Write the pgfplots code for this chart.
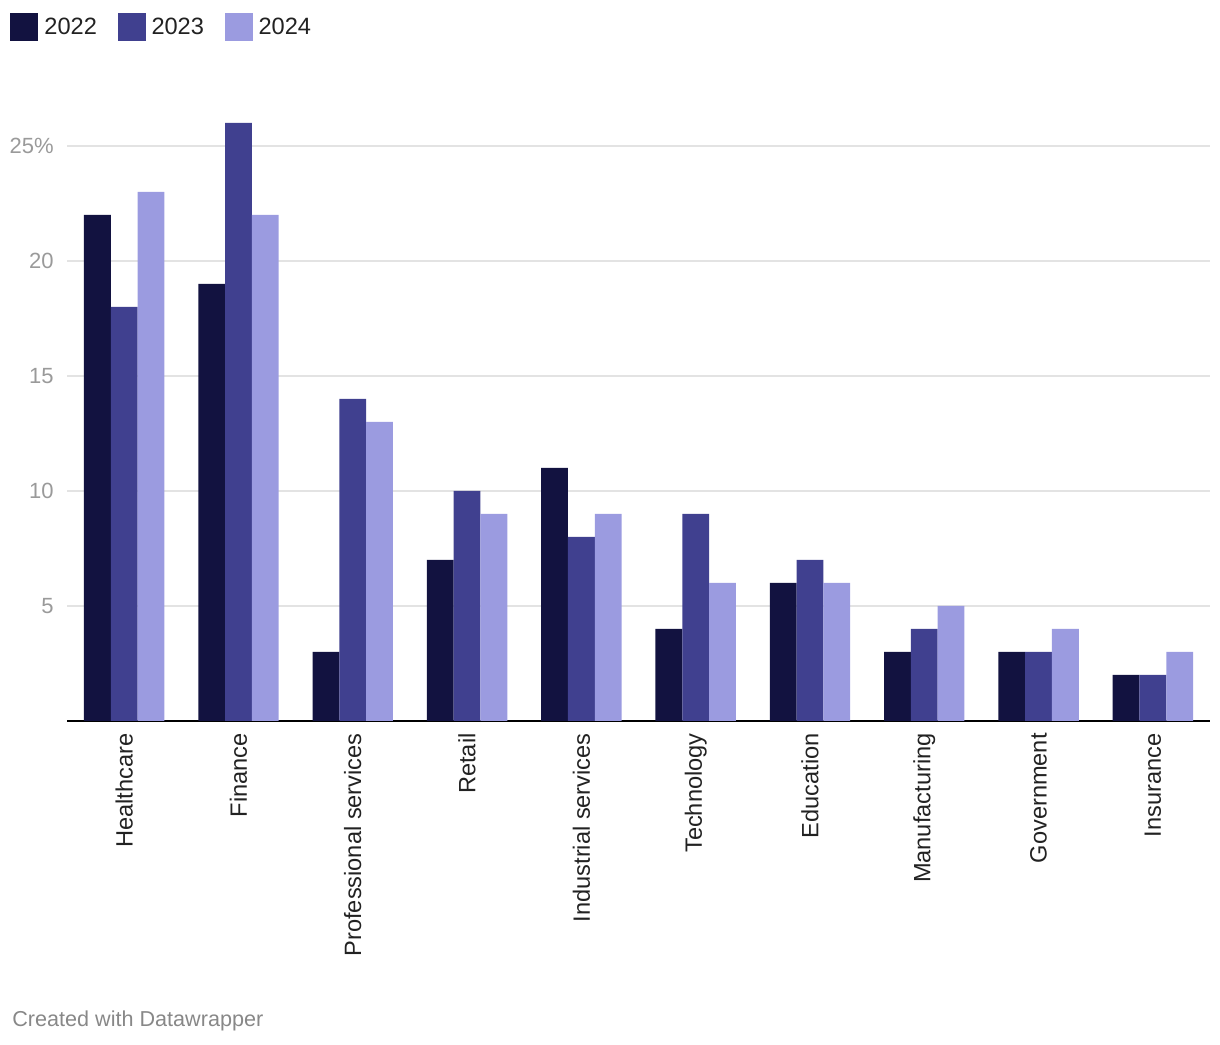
\documentclass[border=0pt]{standalone}
\usepackage{pgfplots}
\usepackage{pgfplotstable}
\pgfplotsset{compat=1.18}
\usepackage{fontspec}
\setmainfont{Liberation Sans}

\definecolor{c22}{HTML}{121240}
\definecolor{c23}{HTML}{40408F}
\definecolor{c24}{HTML}{9B9BE0}
\definecolor{gridc}{HTML}{E3E3E3}
\definecolor{tickc}{HTML}{9A9A9A}
\definecolor{labc}{HTML}{222222}
\definecolor{credc}{HTML}{888888}

% share of incidents by sector, %
\pgfplotstableread{
idx y22 y23 y24
0   22  18  23
1   19  26  22
2   3   14  13
3   7   10  9
4   11  8   9
5   4   9   6
6   6   7   6
7   3   4   5
8   3   3   4
9   2   2   3
}\sectors

\pgfplotsset{sqlegend/.style={legend image code/.code={%
    \fill[##1,draw=none] (0pt,-6.6pt) rectangle (14pt,7.4pt);
    \path (15pt,0pt);}}}

\begin{document}
\begin{tikzpicture}
\path[use as bounding box] (0,0) rectangle (610pt,522pt);
\begin{axis}[
    at={(33.5pt,161.5pt)}, anchor=south west,
    scale only axis,
    width=571.5pt, height=310.5pt,
    ybar=0pt, bar width=13.4pt,
    xmin=-0.5, xmax=9.5, ymin=0, ymax=27,
    xtick={0,...,9},
    xticklabels={Healthcare,Finance,Professional services,Retail,Industrial services,Technology,Education,Manufacturing,Government,Insurance},
    ytick={5,10,15,20,25},
    yticklabels={5,10,15,20,25\%},
    axis lines*=left, separate axis lines,
    y axis line style={draw=none},
    x axis line style={black, line width=1pt, -},
    major tick length=0pt,
    ymajorgrids, grid style={gridc, line width=0.75pt},
    /pgf/number format/assume math mode=true,
    yticklabel style={font=\fontsize{11}{13}\selectfont, text=tickc, anchor=east, inner sep=0pt, xshift=-6.5pt},
    xticklabel style={font=\fontsize{11.8}{13}\selectfont, text=labc, rotate=90, anchor=east, inner sep=0pt},
    xticklabel shift=6pt,
    legend style={at={(-0.05512,1.14654)}, anchor=north west, draw=none, fill=none,
        font=\fontsize{11.8}{13}\selectfont, text=labc,
        /tikz/every even column/.append style={column sep=8.3pt}},
    legend columns=3,
]
\addplot[fill=c22, draw=none, sqlegend] table[x=idx, y=y22] {\sectors};
\addplot[fill=c23, draw=none, sqlegend] table[x=idx, y=y23] {\sectors};
\addplot[fill=c24, draw=none, sqlegend] table[x=idx, y=y24] {\sectors};
\legend{2022,2023,2024}
\end{axis}
\node[anchor=base west, inner sep=0pt, text=credc, font=\fontsize{10.8}{13}\selectfont] at (6pt,9pt) {Created with Datawrapper};
\end{tikzpicture}
\end{document}
